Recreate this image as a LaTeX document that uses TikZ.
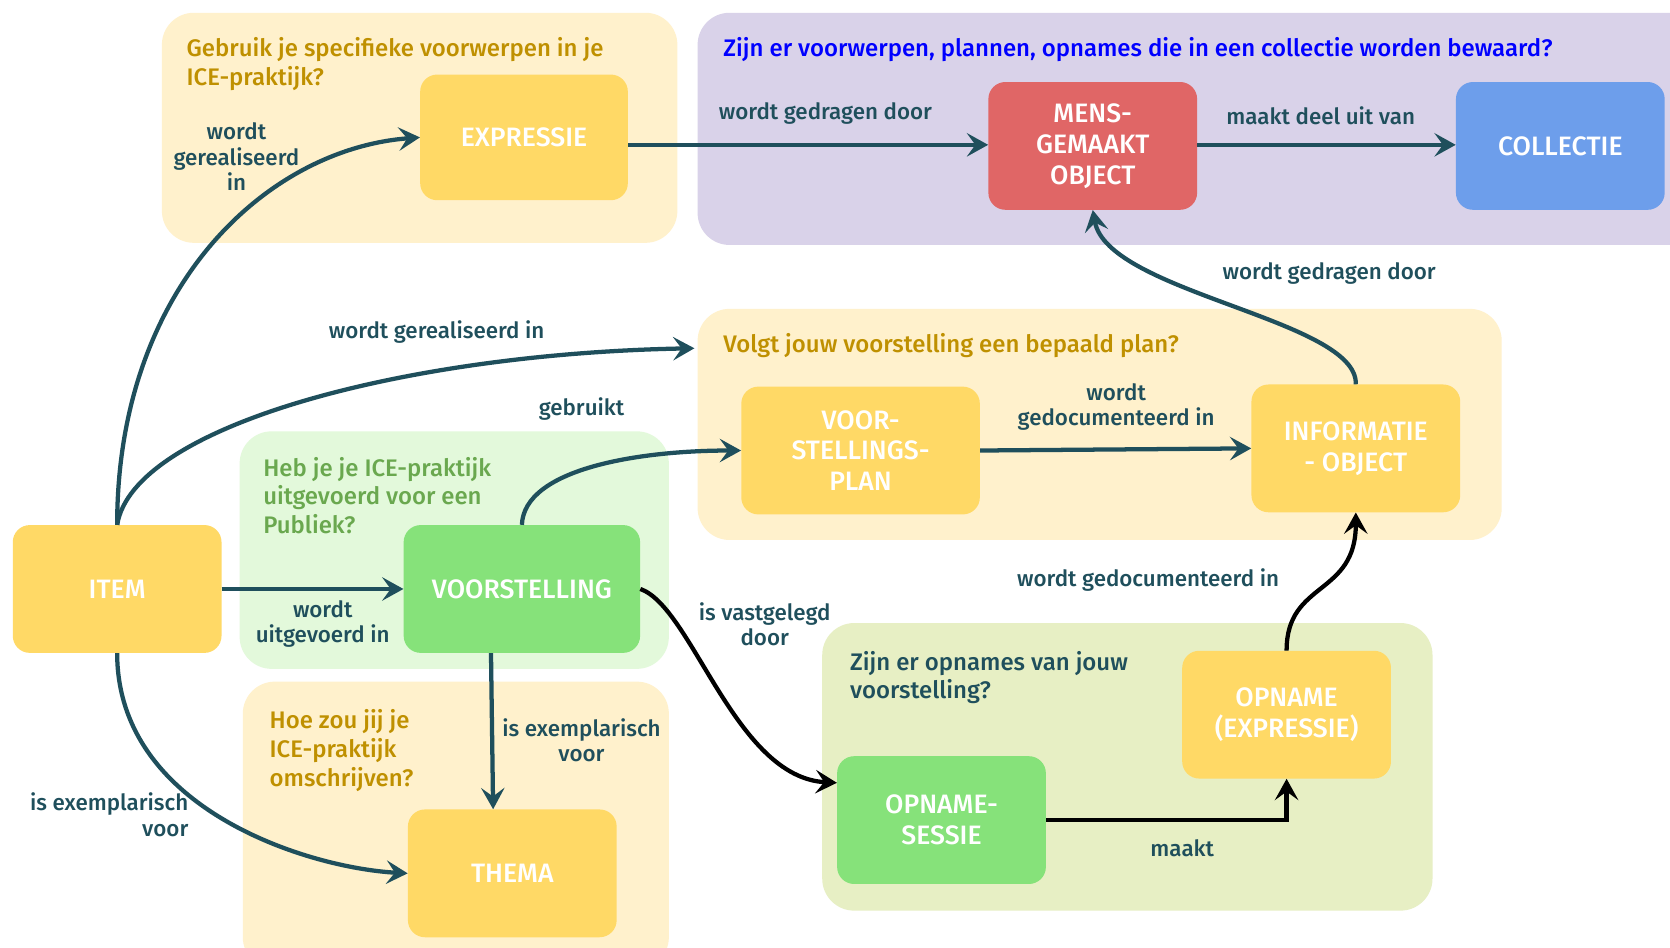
\documentclass[tikz,border=0pt]{standalone}
\usepackage{fontspec}
\setmainfont{Fira Sans}
\newfontfamily\medfont{Fira Sans Medium}
\usetikzlibrary{arrows.meta}
\definecolor{bgY}{HTML}{FFF1CC}
\definecolor{bgP}{HTML}{D9D2E9}
\definecolor{bgG}{HTML}{E3F9DB}
\definecolor{bgO}{HTML}{E7EFC4}
\definecolor{nY}{HTML}{FFD966}
\definecolor{nR}{HTML}{E06666}
\definecolor{nB}{HTML}{6D9EEB}
\definecolor{nG}{HTML}{86E27A}
\definecolor{qgold}{HTML}{BF9000}
\definecolor{qgreen}{HTML}{6AA84F}
\definecolor{qblue}{HTML}{0000FF}
\definecolor{tealc}{HTML}{1F4F5C}
\tikzset{
  region/.style={rounded corners=30pt},
  box/.style={rounded corners=16pt, minimum width=196pt, minimum height=120pt, text=white,
    font=\fontsize{25}{29}\selectfont\medfont, align=center, inner sep=0pt},
  lbl/.style={text=tealc, font=\fontsize{21}{24}\selectfont\medfont, align=center, inner sep=0pt},
  quest/.style={font=\fontsize{22.5}{27}\selectfont\medfont, align=left, anchor=north west, inner sep=0pt},
  arr/.style={line width=4pt, draw=tealc, -{Stealth[length=20pt,width=22pt,inset=8pt]}},
  arrk/.style={line width=4pt, draw=black, -{Stealth[length=20pt,width=22pt,inset=8pt]}}
}
\begin{document}
\begin{tikzpicture}[x=1pt,y=-1pt]
\clip (0,0) rectangle (1568,890);
\fill[white] (0,0) rectangle (1568,890);
% regions
\fill[bgY, region] (152,12) rectangle (636,228);
\fill[bgP, region] (655,12) rectangle (1600,230);
\fill[bgY, region] (655,290) rectangle (1410,507);
\fill[bgG, region] (225,405) rectangle (628,628);
\fill[bgY, region] (228,640) rectangle (628,910);
\fill[bgO, region] (772,585) rectangle (1345,855);
% questions
\node[quest, text=qgold] (q1) at (175,35) {Gebruik je specifieke voorwerpen in je\\ICE-praktijk?};
\node[quest, text=qblue] (q2) at (679,35) {Zijn er voorwerpen, plannen, opnames die in een collectie worden bewaard?};
\node[quest, text=qgold] (q3) at (679,313) {Volgt jouw voorstelling een bepaald plan?};
\node[quest, text=qgreen] (q4) at (247,429) {Heb je je ICE-praktijk\\uitgevoerd voor een\\Publiek?};
\node[quest, text=qgold] (q5) at (253,666) {Hoe zou jij je\\ICE-praktijk\\omschrijven?};
\node[quest, text=tealc] (q6) at (798,611) {Zijn er opnames van jouw\\voorstelling?};
% nodes
\node[box, fill=nY, minimum width=195pt, minimum height=118pt] (expr) at (492,129) {EXPRESSIE};
\node[box, fill=nR] (mens) at (1026,137) {MENS-\\GEMAAKT\\OBJECT};
\node[box, fill=nB] (coll) at (1465,137) {COLLECTIE};
\node[box, fill=nY, minimum width=224pt] (plan) at (808,423) {VOOR-\\STELLINGS-\\PLAN};
\node[box, fill=nY] (info) at (1273,421) {INFORMATIE\\- OBJECT};
\node[box, fill=nY] (item) at (110,553) {ITEM};
\node[box, fill=nG, minimum width=222pt] (voor) at (490,553) {VOORSTELLING};
\node[box, fill=nY] (thema) at (481,820) {THEMA};
\node[box, fill=nY] (opn) at (1208,671) {OPNAME\\(EXPRESSIE)};
\node[box, fill=nG] (sessie) at (884,770) {OPNAME-\\SESSIE};
\coordinate (planin) at (652,327);
% connectors
\draw[arr] (item.north) .. controls (110,270) and (250,140) .. (expr.west);
\draw[arr] (item.north) .. controls (125,400) and (380,332) .. (planin);
\draw[arr] (item.east) -- (voor.west);
\draw[arr] (voor.north) .. controls (492,440) and (600,423) .. (plan.west);
\draw[arr] ([yshift=-7pt]expr.east) -- ([yshift=1pt]mens.west);
\draw[arr] ([yshift=1pt]mens.east) -- ([yshift=1pt]coll.west);
\draw[arr] (info.north) .. controls (1275,300) and (1040,275) .. (mens.south);
\draw[arr] (plan.east) -- (info.west);
\draw[arrk] (voor.east) .. controls (650,570) and (690,730) .. ([yshift=35pt]sessie.west);
\draw[arrk] (sessie.east) -- (opn.south |- sessie.east) -- (opn.south);
\draw[arrk] (opn.north) .. controls (1208,545) and (1273,560) .. (info.south);
\draw[arr] (item.south) .. controls (110,760) and (290,815) .. (thema.west);
\draw[arr] ([xshift=-29pt]voor.south) -- ([xshift=-18pt]thema.north);
% labels
\node[lbl] (l1) at (222,147) {wordt\\gerealiseerd\\in};
\node[lbl] (l2) at (775,107) {wordt gedragen door};
\node[lbl] (l3) at (1240,109) {maakt deel uit van};
\node[lbl] (l4) at (1248,257) {wordt gedragen door};
\node[lbl] (l5) at (410,312) {wordt gerealiseerd in};
\node[lbl] (l6) at (546,384) {gebruikt};
\node[lbl] (l7) at (1048,382) {wordt\\gedocumenteerd in};
\node[lbl] (l8) at (303,586) {wordt\\uitgevoerd in};
\node[lbl] (l9) at (718,586) {is vastgelegd\\door};
\node[lbl] (l10) at (1078,545) {wordt gedocumenteerd in};
\node[lbl, align=right, anchor=east] (l11) at (177,765) {is exemplarisch\\voor};
\node[lbl] (l12) at (546,695) {is exemplarisch\\voor};
\node[lbl] (l13) at (1110,796) {maakt};
\end{tikzpicture}
\end{document}
